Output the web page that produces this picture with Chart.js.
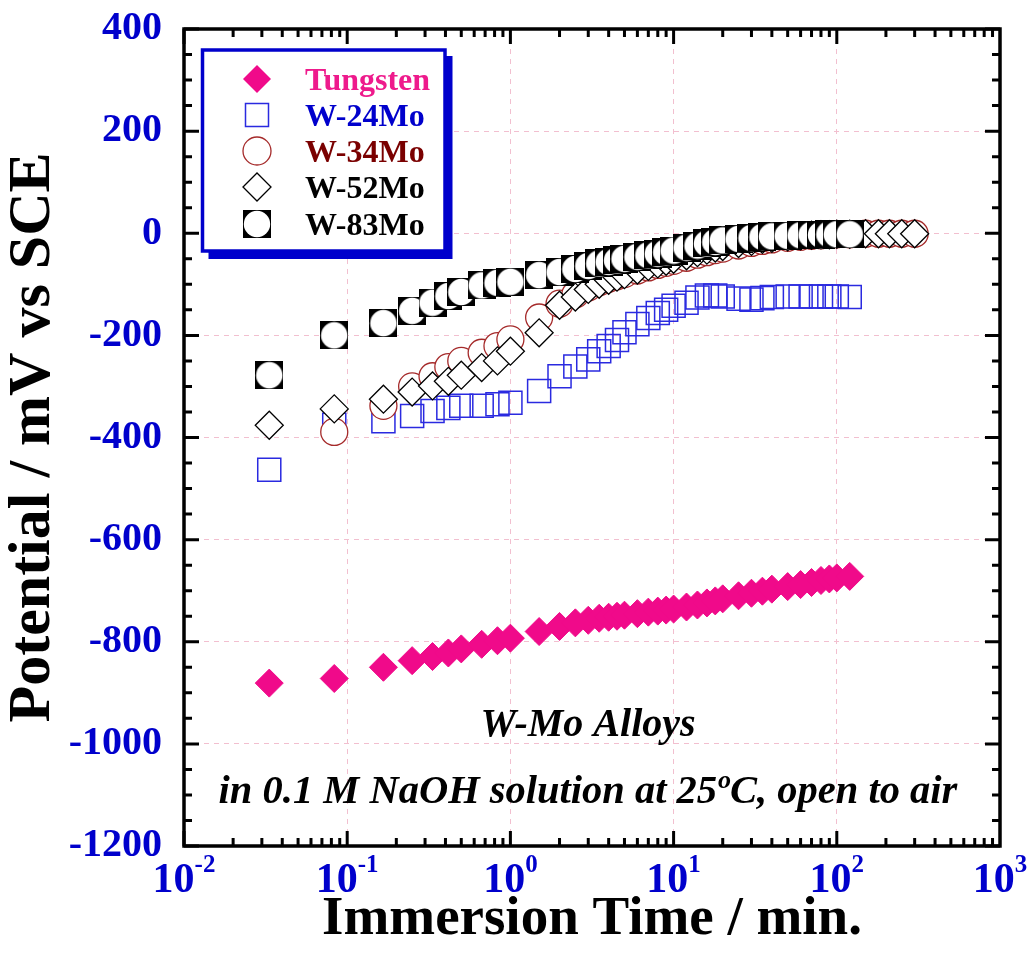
<!DOCTYPE html>
<html>
<head>
<meta charset="utf-8">
<script src="https://cdn.jsdelivr.net/npm/chart.js"></script>
<style>
  html, body { margin: 0; padding: 0; background: #fff; }
</style>
</head>
<body>
<canvas id="chart" width="1031" height="966"></canvas>
<script>
// immersion times in minutes (2 s, 5 s, 10 s ... 2 h), longer runs go on to 5 h
const timeMin = [0.0333, 0.0833, 0.1667, 0.25, 0.3333, 0.4167, 0.5, 0.6667, 0.8333, 1,
    1.5, 2, 2.5, 3, 3.5, 4, 4.5, 5, 6, 7, 8, 9, 10, 12, 14, 16, 18, 20,
    25, 30, 35, 40, 50, 60, 70, 80, 90, 100, 120];
const timeLate = [150, 180, 210, 250, 300];

// potentials, mV vs SCE
const tungsten = [-881, -872, -850, -837, -829, -822, -814, -805, -798, -793,
    -780, -770, -763, -758, -754, -752, -750, -748, -745, -742, -740, -738, -736, -732, -728, -724, -720, -716,
    -710, -705, -701, -697, -692, -688, -684, -680, -677, -675, -672];
const w24Mo = [-463, -375, -368, -358, -348, -342, -338, -338, -335, -332,
    -309, -280, -261, -247, -231, -221, -209, -194, -178, -166, -156, -150, -142, -136, -126, -122, -122, -124,
    -128, -130, -127, -125, -124, -124, -124, -124, -124, -124, -125];
const w34Mo = [null, -389, -338, -300, -280, -262, -250, -234, -221, -208,
    -165, -138, -120, -106, -96, -89, -84, -80, -73, -67, -62, -58, -54, -48, -42, -37, -33, -30,
    -24, -19, -15, -12, -9, -7, -5, -4, -3, -2, -2,
    -1, -1, -1, -1, -1];
const w52Mo = [-376, -344, -325, -311, -299, -290, -278, -263, -250, -231,
    -195, -141, -125, -110, -100, -92, -86, -81, -72, -65, -60, -55, -51, -44, -38, -33, -29, -26,
    -20, -16, -12, -10, -7, -5, -4, -3, -3, -2, -2,
    -1, -1, -1, -1, -1];
const w83Mo = [-278, -200, -176, -152, -136, -123, -115, -102, -97, -95,
    -82, -76, -70, -64, -59, -56, -53, -50, -46, -43, -40, -37, -34, -28, -24, -20, -17, -14,
    -11, -9, -7, -6, -5, -4, -3, -3, -2, -2, -2];

const seriesNames = ['Tungsten', 'W-24Mo', 'W-34Mo', 'W-52Mo', 'W-83Mo'];
const xExponents = [-2, -1, 0, 1, 2, 3];
const yMin = -1200, yMax = 400, yStep = 200, yMinorStep = 50;

const serif = '"Liberation Serif", "Times New Roman", serif';
const blue = '#0000cc';
const pink = '#f00a8a';
const brown = '#a52a2a';
const gridPink = '#f2bfcf';

function pts(times, values) {
    return values.map((v, i) => ({ x: times[i], y: v })).filter(p => p.y !== null);
}

// black square with a white disc, the W-83Mo symbol
function makeBlockCircle(size) {
    const c = document.createElement('canvas');
    c.width = size; c.height = size;
    const g = c.getContext('2d');
    g.fillStyle = '#000';
    g.fillRect(0, 0, size, size);
    g.fillStyle = '#fff';
    g.beginPath();
    g.arc(size / 2, size / 2, size / 2 - 0.8, 0, Math.PI * 2);
    g.fill();
    return c;
}
const blockCircle = makeBlockCircle(28);

const isDecade = v => v > 0 && Math.abs(Math.log10(v) - Math.round(Math.log10(v))) < 1e-6;

function drawSymbol(ctx, kind, x, y) {
    ctx.save();
    ctx.beginPath();
    if (kind === 0) {
        ctx.moveTo(x - 14, y); ctx.lineTo(x, y - 14); ctx.lineTo(x + 14, y); ctx.lineTo(x, y + 14); ctx.closePath();
        ctx.fillStyle = pink; ctx.fill();
    } else if (kind === 1) {
        ctx.rect(x - 11.5, y - 11.5, 23, 23);
        ctx.strokeStyle = '#2a2ae0'; ctx.lineWidth = 1.5; ctx.stroke();
    } else if (kind === 2) {
        ctx.arc(x, y, 14, 0, Math.PI * 2);
        ctx.fillStyle = '#fff'; ctx.fill();
        ctx.strokeStyle = brown; ctx.lineWidth = 1.3; ctx.stroke();
    } else if (kind === 3) {
        ctx.moveTo(x - 14, y); ctx.lineTo(x, y - 14); ctx.lineTo(x + 14, y); ctx.lineTo(x, y + 14); ctx.closePath();
        ctx.fillStyle = '#fff'; ctx.fill();
        ctx.strokeStyle = '#000'; ctx.lineWidth = 1.3; ctx.stroke();
    } else {
        ctx.drawImage(blockCircle, x - 14, y - 14, 28, 28);
    }
    ctx.restore();
}

const decorPlugin = {
    id: 'decor',
    afterDraw(chart) {
        const { ctx, chartArea: a, scales: { x, y } } = chart;
        ctx.save();

        // inward ticks on all four sides
        ctx.strokeStyle = '#000';
        ctx.lineWidth = 3;
        ctx.beginPath();
        for (let v = yMin; v <= yMax; v += yMinorStep) {
            const py = y.getPixelForValue(v);
            const len = v % yStep === 0 ? 15 : 8;
            ctx.moveTo(a.left, py); ctx.lineTo(a.left + len, py);
            ctx.moveTo(a.right, py); ctx.lineTo(a.right - len, py);
        }
        for (let e = xExponents[0]; e < xExponents[xExponents.length - 1]; e++) {
            for (let k = 1; k <= 9; k++) {
                const px = x.getPixelForValue(k * Math.pow(10, e));
                const len = k === 1 ? 15 : 8;
                ctx.moveTo(px, a.bottom); ctx.lineTo(px, a.bottom - len);
                ctx.moveTo(px, a.top); ctx.lineTo(px, a.top + len);
            }
        }
        ctx.stroke();

        // frame
        ctx.lineWidth = 3.5;
        ctx.strokeRect(a.left, a.top, a.right - a.left, a.bottom - a.top);

        // x tick labels as powers of ten
        ctx.fillStyle = blue;
        ctx.textAlign = 'left';
        ctx.textBaseline = 'alphabetic';
        xExponents.forEach(e => {
            const px = x.getPixelForValue(Math.pow(10, e));
            ctx.font = 'bold 42px ' + serif;
            const wb = ctx.measureText('10').width;
            ctx.font = 'bold 25px ' + serif;
            const we = ctx.measureText(String(e)).width;
            const left = px - (wb + we) / 2;
            ctx.font = 'bold 42px ' + serif;
            ctx.fillText('10', left, 892);
            ctx.font = 'bold 25px ' + serif;
            ctx.fillText(String(e), left + wb, 872);
        });

        // annotations
        const cx = 588;
        ctx.fillStyle = '#000';
        ctx.textAlign = 'center';
        ctx.font = 'italic bold 40px ' + serif;
        ctx.fillText('W-Mo Alloys', cx, 736);

        const p1 = 'in 0.1 M NaOH solution at 25', sup = 'o', p2 = 'C, open to air';
        ctx.textAlign = 'left';
        ctx.font = 'italic bold 40.5px ' + serif;
        const w1 = ctx.measureText(p1).width, w2 = ctx.measureText(p2).width;
        ctx.font = 'italic bold 26px ' + serif;
        const ws = ctx.measureText(sup).width;
        let sx = cx - (w1 + ws + w2) / 2;
        ctx.font = 'italic bold 40.5px ' + serif;
        ctx.fillText(p1, sx, 803);
        ctx.font = 'italic bold 26px ' + serif;
        ctx.fillText(sup, sx + w1 + 1, 788);
        ctx.font = 'italic bold 40.5px ' + serif;
        ctx.fillText(p2, sx + w1 + ws, 803);

        // legend box with drop shadow
        const bl = 202.5, bt = 50, br = 445, bb = 251;
        ctx.fillStyle = blue;
        ctx.fillRect(bl + 6, bt + 6, br - bl + 1.5, bb - bt + 2);
        ctx.fillStyle = '#fff';
        ctx.fillRect(bl, bt, br - bl, bb - bt);
        ctx.strokeStyle = blue;
        ctx.lineWidth = 3.5;
        ctx.strokeRect(bl, bt, br - bl, bb - bt);

        const rows = [79, 115, 151, 187, 224];
        const textColors = ['#ee1a8c', blue, '#7a0000', '#000', '#000'];
        ctx.font = 'bold 32px ' + serif;
        seriesNames.forEach((name, i) => {
            drawSymbol(ctx, i, 257, rows[i]);
            ctx.fillStyle = textColors[i];
            ctx.fillText(name, 305, rows[i] + 11);
        });

        ctx.restore();
    }
};

new Chart(document.getElementById('chart'), {
    type: 'scatter',
    data: {
        datasets: [
            {
                label: seriesNames[4], data: pts(timeMin, w83Mo), order: 1,
                pointStyle: blockCircle, pointRadius: 14
            },
            {
                label: seriesNames[3], data: pts(timeMin.concat(timeLate), w52Mo), order: 2,
                pointStyle: 'rectRot', pointRadius: 14,
                backgroundColor: '#fff', borderColor: '#000', borderWidth: 1.3
            },
            {
                label: seriesNames[2], data: pts(timeMin.concat(timeLate), w34Mo), order: 3,
                pointStyle: 'circle', pointRadius: 13.5,
                backgroundColor: '#fff', borderColor: brown, borderWidth: 1.3
            },
            {
                label: seriesNames[1], data: pts(timeMin, w24Mo), order: 4,
                pointStyle: 'rect', pointRadius: 16.3,
                backgroundColor: 'rgba(0,0,0,0)', borderColor: '#2a2ae0', borderWidth: 1.5
            },
            {
                label: seriesNames[0], data: pts(timeMin, tungsten), order: 5,
                pointStyle: 'rectRot', pointRadius: 14,
                backgroundColor: pink, borderColor: pink, borderWidth: 1
            }
        ]
    },
    options: {
        responsive: false,
        animation: false,
        events: [],
        layout: { padding: { top: 29, right: 31, left: 0, bottom: 0 } },
        plugins: {
            legend: { display: false },
            tooltip: { enabled: false }
        },
        scales: {
            x: {
                type: 'logarithmic',
                position: 'bottom',
                min: 0.01,
                max: 1000,
                ticks: { display: false },
                grid: {
                    drawTicks: false,
                    lineWidth: 1,
                    color: c => (c.tick && isDecade(c.tick.value)) ? gridPink : 'rgba(0,0,0,0)'
                },
                border: { display: false, dash: [5, 5] },
                title: {
                    display: true,
                    text: 'Immersion Time / min.',
                    color: '#000',
                    font: { family: serif, size: 55, weight: 'bold', lineHeight: 1 },
                    padding: { top: 0, bottom: 19 }
                },
                afterFit: s => { s.height = 120; s.paddingLeft = 0; s.paddingRight = 0; }
            },
            y: {
                min: yMin,
                max: yMax,
                ticks: {
                    stepSize: yStep,
                    color: blue,
                    padding: 22,
                    font: { family: serif, size: 40, weight: 'bold' },
                    callback: v => String(v)
                },
                grid: { drawTicks: false, lineWidth: 1, color: gridPink },
                border: { display: false, dash: [5, 5] },
                title: {
                    display: true,
                    text: 'Potential / mV vs SCE',
                    color: '#000',
                    font: { family: serif, size: 60, weight: 'bold', lineHeight: 1 },
                    padding: { top: 3, bottom: 0 }
                },
                afterFit: s => { s.width = 184; s.paddingTop = 0; s.paddingBottom = 0; }
            }
        }
    },
    plugins: [decorPlugin]
});
</script>
</body>
</html>
